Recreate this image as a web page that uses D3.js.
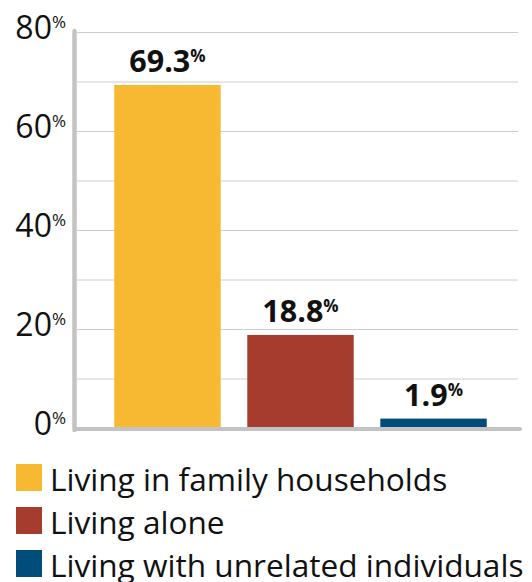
<!DOCTYPE html>
<html><head><meta charset="utf-8">
<script src="https://cdn.jsdelivr.net/npm/d3@7"></script>
<style>body{margin:0;background:#fff;} svg{display:block;font-family:"Open Sans",sans-serif;}</style>
</head><body>
<script>
const categories = ["Living in family households","Living alone","Living with unrelated individuals"];
const values = [69.3, 18.8, 1.9];
const colors = ["#F6B931","#A63C2D","#004C7A"];
const tickValues = [0,20,40,60,80];
const gridValues = [0,10,20,30,40,50,60,70,80];

const W = 532, H = 582;
const svg = d3.select("body").append("svg").attr("width",W).attr("height",H);

const y = d3.scaleLinear().domain([0,80]).range([428,32]);
const x = d3.scaleBand().domain(categories).range([81,520]).paddingInner(0.2).paddingOuter(0.25);

// gridlines
svg.append("g").selectAll("line").data(gridValues.filter(d=>d>0)).join("line")
  .attr("x1",77).attr("x2",518).attr("y1",d=>y(d)+0.5).attr("y2",d=>y(d)+0.5)
  .attr("stroke","#cccccc").attr("stroke-width",1);

// bars
svg.append("g").selectAll("rect").data(values).join("rect")
  .attr("x",(d,i)=>x(categories[i])).attr("width",x.bandwidth())
  .attr("y",d=>y(d)).attr("height",d=>y(0)-y(d)).attr("fill",(d,i)=>colors[i]);

// axes
svg.append("line").attr("x1",74.5).attr("x2",74.5).attr("y1",31).attr("y2",430)
  .attr("stroke","#c3c3c5").attr("stroke-width",4.5).attr("stroke-linecap","round");
svg.append("line").attr("x1",75).attr("x2",520).attr("y1",429).attr("y2",429)
  .attr("stroke","#c3c3c5").attr("stroke-width",4).attr("stroke-linecap","round");

// y tick labels
const tl = svg.append("g").selectAll("text").data(tickValues).join("text")
  .attr("x",66).attr("y",d=>y(d)+7).attr("text-anchor","end")
  .attr("font-size",32).attr("fill","#111");
tl.append("tspan").text(d=>d);
tl.append("tspan").text("%").attr("font-size",17).attr("dy",-11);

// value labels
const vl = svg.append("g").selectAll("text").data(values).join("text")
  .attr("x",(d,i)=>x(categories[i])+x.bandwidth()/2).attr("y",d=>y(d)-13)
  .attr("text-anchor","middle").attr("font-weight","bold").attr("font-size",30.5).attr("fill","#111");
vl.append("tspan").text(d=>d.toFixed(1));
vl.append("tspan").text("%").attr("font-size",17).attr("dy",-10);

// legend
const lg = svg.append("g").selectAll("g").data(categories).join("g")
  .attr("transform",(d,i)=>`translate(16,${464+i*43})`);
lg.append("rect").attr("width",26).attr("height",27).attr("fill",(d,i)=>colors[i]);
lg.append("text").attr("x",34).attr("y",27).attr("font-size",31.6).attr("fill","#111").text(d=>d);
</script>
</body></html>
